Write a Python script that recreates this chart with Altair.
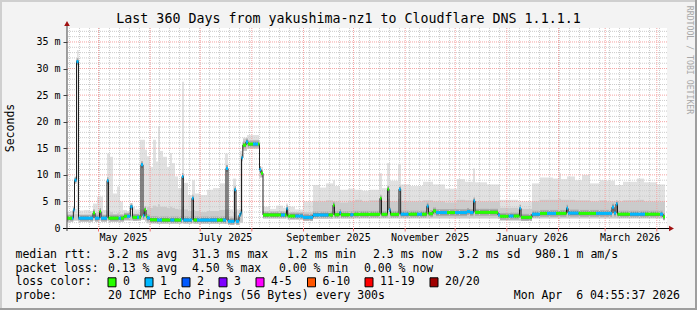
import altair as alt
import pandas as pd
from datetime import datetime, timedelta

FONT = "DejaVu Sans Mono"
X0, Y0 = 67, 28          # plot origin inside the 697x310 page
W, H = 600, 200
YMAX = 37.63

# ---------------- data ----------------
# x unit: days from the left edge of the plot (360 days over 600 px)
smoke_start = [0, 1.8, 3.6, 6.0, 7.0, 10.0, 13.8, 15.6, 18.0, 21.6,
               24.0, 25.8, 27.6, 30.0, 31.8, 33.6, 36.0, 39.0, 40.8, 43.8,
               46.8, 48.0, 49.8, 51.6, 53.4, 54.6, 55.8, 57.6, 60.0, 61.8,
               63.0, 64.8, 66.6, 69.0, 70.2, 72.6, 75.0, 76.8, 79.8, 84.0,
               87.6, 91.8, 94.8, 96.6, 99.6, 101.4, 103.8, 105.6, 108.0, 115.2,
               117.6, 121.8, 125.4, 129.6, 131.4, 132.6, 136.8, 141.6, 147.6, 151.8,
               155.4, 159.6, 160.8, 163.8, 168.6, 172.8, 177.0, 181.8, 187.2, 189.0,
               192.0, 193.8, 198.6, 200.4, 205.8, 213.6, 219.6, 226.8, 234.0, 238.8,
               243.6, 244.8, 252.0, 259.8, 270.6, 279.0, 283.8, 291.6, 295.2, 296.4,
               300.0, 304.8, 309.0, 313.8, 319.8, 324.0, 328.8, 333.6, 342.0, 346.2,
               354.0]
smoke_hi = [3.0, 3.2, 3.6, 33.5, 3.3, 3.4, 3.2, 4.6, 5.9, 3.4,
            14.0, 13.4, 6.5, 7.8, 5.0, 3.4, 3.2, 4.0, 3.5, 16.6,
            14.7, 13.5, 11.5, 16.6, 12.5, 19.1, 14.5, 13.4, 11.5, 14.1,
            12.2, 9.7, 7.5, 27.5, 8.5, 6.2, 9.0, 6.5, 6.2, 7.2,
            7.5, 8.4, 14.0, 3.5, 9.3, 3.5, 14.5, 17.0, 17.5, 11.5,
            4.0, 3.6, 4.2, 3.8, 4.6, 4.0, 3.5, 5.0, 8.1, 7.6,
            8.4, 9.0, 7.9, 7.2, 7.4, 7.2, 7.0, 7.2, 10.3, 7.5,
            12.2, 8.9, 11.9, 8.2, 7.9, 8.7, 8.2, 7.4, 9.2, 8.7,
            11.2, 8.6, 8.2, 5.3, 5.0, 8.4, 9.5, 9.3, 10.3, 9.2,
            9.7, 9.0, 10.0, 8.4, 9.0, 8.9, 8.1, 8.7, 9.3, 8.6,
            8.2]
smoke_mid = [2.4, 2.4, 2.6, 2.6, 2.4, 2.4, 2.4, 2.8, 3.0, 2.4,
             3.2, 3.0, 2.6, 2.8, 2.6, 2.4, 2.5, 2.7, 2.6, 3.5,
             3.4, 4.0, 3.8, 4.2, 4.0, 4.5, 4.0, 4.0, 3.8, 4.0,
             3.8, 3.6, 3.5, 4.0, 3.5, 3.2, 3.4, 3.2, 3.0, 3.2,
             3.2, 3.4, 3.5, 2.2, 3.0, 2.2, 3.5, 16.8, 16.6, 11.0,
             3.0, 3.0, 3.1, 3.0, 3.4, 3.0, 2.9, 3.0, 5.0, 5.0,
             5.2, 5.0, 5.0, 4.8, 5.0, 5.3, 5.0, 5.2, 5.5, 5.0,
             5.5, 5.0, 5.5, 5.0, 5.0, 5.2, 5.0, 4.8, 5.3, 5.2,
             5.5, 5.0, 5.0, 3.8, 3.6, 5.0, 5.3, 5.3, 5.5, 5.3,
             5.3, 5.2, 5.2, 5.0, 5.2, 5.0, 5.0, 5.2, 5.3, 5.0,
             5.0]
smoke_lo = [1.4, 1.4, 1.4, 1.4, 1.4, 1.4, 1.4, 1.4, 1.4, 1.4,
            1.4, 1.4, 1.4, 1.4, 1.4, 1.4, 1.4, 1.5, 1.5, 1.5,
            1.2, 0.9, 0.9, 0.9, 0.9, 0.9, 0.9, 0.9, 0.9, 0.9,
            0.9, 0.9, 0.9, 0.9, 0.9, 0.9, 0.9, 0.9, 0.9, 0.9,
            0.9, 0.9, 0.8, 0.8, 0.8, 0.8, 1.0, 14.5, 14.9, 9.5,
            2.0, 2.0, 2.0, 2.0, 2.0, 2.0, 1.9, 1.6, 1.8, 1.8,
            1.8, 1.8, 1.8, 1.8, 1.8, 1.8, 1.8, 1.8, 1.8, 1.8,
            1.8, 1.8, 1.8, 1.8, 1.8, 1.8, 1.8, 1.8, 1.8, 1.8,
            1.8, 1.8, 1.8, 1.4, 1.4, 1.8, 1.8, 1.8, 1.8, 1.8,
            1.8, 1.8, 1.8, 1.8, 1.8, 1.8, 1.8, 1.8, 1.8, 1.8,
            1.8]
DATA_END = 358.8

med_start = [0, 3.0, 3.8, 4.5, 5.7, 6.9, 15.6, 16.8, 19.5, 20.4,
             24.0, 24.9, 31.0, 32.4, 34.2, 36.0, 38.0, 39.3, 42.0, 43.2,
             44.4, 45.6, 46.4, 47.4, 48.0, 49.8, 54.0, 57.0, 62.0, 64.5,
             68.4, 69.0, 69.8, 75.0, 75.9, 78.0, 90.0, 93.5, 95.4, 96.6,
             100.5, 101.4, 103.2, 104.1, 104.7, 105.5, 107.4, 108.6, 111.6, 114.6,
             115.5, 116.4, 117.6, 128.4, 130.8, 131.7, 132.4, 137.0, 141.6, 147.6,
             157.0, 159.6, 160.5, 163.5, 164.4, 170.0, 172.0, 187.8, 188.7, 192.3,
             193.2, 194.1, 199.2, 200.2, 205.0, 210.0, 213.0, 215.9, 216.9, 219.6,
             221.4, 228.0, 232.8, 240.0, 241.8, 243.9, 244.8, 258.6, 259.8, 265.0,
             268.0, 271.5, 272.4, 279.0, 283.8, 288.0, 293.4, 299.7, 300.6, 307.0,
             317.4, 327.0, 328.2, 329.4, 330.3, 337.8, 346.8, 355.8, 357.6]
med_val = [1.85, 1.85, 3.4, 9.0, 31.3, 1.85, 2.8, 1.85, 3.1, 1.85,
           8.9, 1.85, 1.85, 1.85, 2.2, 2.2, 4.0, 2.0, 2.0, 2.0,
           11.9, 2.3, 3.4, 2.2, 1.9, 1.55, 1.5, 1.5, 1.5, 1.5,
           1.55, 9.7, 1.5, 5.6, 1.5, 1.5, 1.5, 1.5, 11.2, 1.25,
           7.2, 1.25, 2.4, 2.8, 13.2, 15.6, 16.2, 15.8, 15.8, 15.8,
           11.0, 10.3, 2.45, 2.45, 2.45, 3.6, 2.25, 2.25, 2.0, 2.45,
           2.45, 4.3, 2.5, 2.9, 2.5, 2.5, 2.57, 5.6, 2.57, 7.3,
           3.4, 2.57, 7.3, 2.6, 2.6, 2.6, 2.6, 4.1, 2.7, 3.2,
           2.9, 2.9, 2.9, 3.1, 2.9, 5.1, 2.95, 2.45, 2.2, 2.25,
           2.25, 3.7, 2.0, 2.6, 2.75, 2.75, 2.75, 3.7, 2.8, 2.75,
           2.75, 3.9, 2.8, 4.5, 2.6, 2.6, 2.6, 2.6, 2.1]
med_loss = [0, 1, 1, 1, 1, 1, 0, 1, 0, 1,
            1, 0, 1, 0, 0, 1, 1, 0, 1, 0,
            1, 1, 0, 0, 1, 0, 1, 0, 1, 0,
            1, 1, 1, 1, 0, 1, 0, 1, 1, 1,
            1, 1, 1, 1, 1, 0, 1, 0, 1, 0,
            1, 0, 0, 1, 0, 1, 0, 1, 1, 1,
            0, 0, 0, 1, 0, 1, 0, 0, 0, 0,
            1, 0, 1, 1, 0, 1, 0, 1, 0, 0,
            1, 0, 1, 1, 1, 1, 0, 1, 0, 1,
            0, 1, 0, 1, 0, 1, 0, 1, 1, 0,
            1, 1, 1, 1, 0, 1, 0, 1, 0]

y_ticks = [0, 5, 10, 15, 20, 25, 30, 35]
month_names = ["May 2025", "July 2025", "September 2025",
               "November 2025", "January 2026", "March 2026"]
loss_names = ["0", "1", "2", "3", "4-5", "6-10", "11-19", "20/20"]
loss_colors = ["#26ff00", "#00b8ff", "#0059ff", "#7e00ff",
               "#ff00ff", "#ff5500", "#ff0000", "#a00000"]
stats_rtt = ["3.2 ms avg", "31.3 ms max", "1.2 ms min", "2.3 ms now",
             "3.2 ms sd", "980.1 m am/s"]
stats_loss = ["0.13 % avg", "4.50 % max", "0.00 % min", "0.00 % now"]

# ---------------- time axis helpers ----------------
ORIGIN = datetime(2025, 4, 12, 2, 24)


def day_of(dt):
    return (dt - ORIGIN).total_seconds() / 86400.0


month_starts = []
for y, m in [(2025, 5), (2025, 6), (2025, 7), (2025, 8), (2025, 9), (2025, 10),
             (2025, 11), (2025, 12), (2026, 1), (2026, 2), (2026, 3), (2026, 4)]:
    month_starts.append(day_of(datetime(y, m, 1)))
label_months = [datetime(2025, 5, 1), datetime(2025, 7, 1), datetime(2025, 9, 1),
                datetime(2025, 11, 1), datetime(2026, 1, 1), datetime(2026, 3, 1)]
label_days = [day_of(d + timedelta(days=15)) for d in label_months]
minor_days = []
d = 1.5
while d < 360:
    minor_days.append(d)
    d += 6
minor_y = [v for v in range(1, 38) if v % 5 != 0]
major_y = [v for v in range(5, 38, 5)]

# ---------------- frames ----------------
smoke_end = smoke_start[1:] + [DATA_END]
smoke_df = pd.DataFrame({"s": smoke_start, "e": smoke_end, "hi": smoke_hi,
                         "mid": smoke_mid, "lo": smoke_lo})
med_end = med_start[1:] + [DATA_END]
med_df = pd.DataFrame({"s": med_start, "e": med_end, "v": med_val,
                       "loss": [str(x) for x in med_loss]})
line_df = pd.DataFrame({"s": med_start + [DATA_END], "v": med_val + [med_val[-1]]})

xs = alt.Scale(domain=[0, 360], nice=False, zero=False)
ys = alt.Scale(domain=[0, YMAX], nice=False, zero=False)
yaxis = alt.Axis(values=y_ticks, labelExpr="datum.value == 0 ? '0' : datum.value + ' m'",
                 domain=False, grid=False, ticks=True, tickSize=4, tickColor="#404040",
                 labelFont=FONT, labelFontSize=10, labelColor="#000000", labelPadding=3,
                 title=None, labelOverlap=False, labelBaseline="middle")


def X(field):
    return alt.X(field, type="quantitative", scale=xs, axis=None)


def Y(field):
    return alt.Y(field, type="quantitative", scale=ys, axis=yaxis)


layers = []
# smoke
layers.append(alt.Chart(smoke_df).mark_rect(color="#e1e1e1").encode(
    x=X("s"), x2="e", y=Y("lo"), y2="hi"))
layers.append(alt.Chart(smoke_df).mark_rect(color="#cbcbcb").encode(
    x=X("s"), x2="e", y=Y("lo"), y2="mid"))
layers.append(alt.Chart(med_df).mark_rule(color="#acacac", strokeWidth=7).encode(
    x=X("s"), x2="e", y=Y("v")))
layers.append(alt.Chart(med_df).mark_rule(color="#7c7c7c", strokeWidth=3.5).encode(
    x=X("s"), x2="e", y=Y("v")))

# grid
layers.append(alt.Chart(pd.DataFrame({"d": minor_days})).mark_rule(
    color="#cccccc", strokeDash=[1, 1], strokeWidth=1).encode(x=X("d")))
layers.append(alt.Chart(pd.DataFrame({"v": minor_y})).mark_rule(
    color="#cccccc", strokeDash=[1, 1], strokeWidth=1).encode(y=Y("v")))
layers.append(alt.Chart(pd.DataFrame({"d": month_starts})).mark_rule(
    color="#f4a3a3", strokeDash=[1, 1], strokeWidth=1).encode(x=X("d")))
layers.append(alt.Chart(pd.DataFrame({"v": major_y})).mark_rule(
    color="#f4a3a3", strokeDash=[1, 1], strokeWidth=1).encode(y=Y("v")))

# median
layers.append(alt.Chart(line_df).mark_line(interpolate="step-after", color="#202020",
                                           strokeWidth=1).encode(x=X("s"), y=Y("v")))
layers.append(alt.Chart(med_df).mark_rule(strokeWidth=3).encode(
    x=X("s"), x2="e", y=Y("v"),
    color=alt.Color("loss:N", scale=alt.Scale(domain=["0", "1"],
                                              range=loss_colors[:2]), legend=None)))

one = alt.Data(values=[{"a": 1}])

# axes lines, arrows, ticks
layers.append(alt.Chart(one).mark_rule(color="#000000", strokeWidth=1).encode(
    x=alt.value(-4), x2=alt.value(603), y=alt.value(200.5)))
layers.append(alt.Chart(one).mark_rule(color="#404040", strokeWidth=1).encode(
    x=alt.value(0), y=alt.value(203), y2=alt.value(-3)))
layers.append(alt.Chart(one).mark_point(shape="triangle-up", filled=True, size=32,
                                        color="#a01010", opacity=1).encode(
    x=alt.value(0), y=alt.value(-4.5)))
layers.append(alt.Chart(one).mark_point(shape="triangle-right", filled=True, size=32,
                                        color="#a01010", opacity=1).encode(
    x=alt.value(604.5), y=alt.value(200.5)))
layers.append(alt.Chart(pd.DataFrame({"d": month_starts})).mark_rule(
    color="#f07070", strokeWidth=1).encode(x=X("d"), y=alt.value(200), y2=alt.value(203.5)))
layers.append(alt.Chart(pd.DataFrame({"d": label_days, "t": month_names})).mark_text(
    font=FONT, fontSize=10, color="#000000", baseline="middle", align="center").encode(
    x=X("d"), y=alt.value(209.5), text="t:N"))


def txt(s, x, y, size=11.5, align="left", angle=0, color="#000000"):
    return alt.Chart(one).mark_text(text=s, font=FONT, fontSize=size, align=align,
                                    baseline="middle", angle=angle, color=color).encode(
        x=alt.value(x - X0), y=alt.value(y - Y0))


def hline(x1, x2, y, color, w=2):
    return alt.Chart(one).mark_rule(color=color, strokeWidth=w).encode(
        x=alt.value(x1 - X0), x2=alt.value(x2 - X0), y=alt.value(y - Y0))


def vline(x, y1, y2, color, w=2):
    return alt.Chart(one).mark_rule(color=color, strokeWidth=w).encode(
        x=alt.value(x - X0), y=alt.value(y1 - Y0), y2=alt.value(y2 - Y0))


# frame
layers.append(hline(0, 697, 1, "#cfcfcf"))
layers.append(vline(1, 0, 310, "#cfcfcf"))
layers.append(hline(0, 697, 309, "#9e9e9e"))
layers.append(vline(696, 0, 310, "#9e9e9e"))

# texts
layers.append(txt("Last 360 Days from yakushima-nz1 to Cloudflare DNS 1.1.1.1", 348.5, 19,
                  size=13.3, align="center"))
layers.append(txt("Seconds", 10.5, 128, angle=270, align="center"))
layers.append(txt("RRDTOOL / TOBI OETIKER", 688.5, 60, size=8.2, angle=90, align="center",
                  color="#a8a8a8"))

row_y = [254.5, 268.5, 282.3, 296.3]
layers.append(txt("median rtt:", 15.5, row_y[0]))
for s, x in zip(stats_rtt, [108, 192, 287, 373, 458, 535]):
    layers.append(txt(s, x, row_y[0]))
layers.append(txt("packet loss:", 15.5, row_y[1]))
for s, x in zip(stats_loss, [108, 192, 279, 364]):
    layers.append(txt(s, x, row_y[1]))
layers.append(txt("loss color:", 15.5, row_y[2]))
box_x = [108, 145, 182, 219, 256, 307.5, 365, 430]
for name, col, bx in zip(loss_names, loss_colors, box_x):
    layers.append(alt.Chart(one).mark_rect(fill=col, stroke="#000000", strokeWidth=1).encode(
        x=alt.value(bx - X0), x2=alt.value(bx + 8 - X0),
        y=alt.value(row_y[2] - 4.5 - Y0), y2=alt.value(row_y[2] + 4.5 - Y0)))
    layers.append(txt(name, bx + 15, row_y[2]))
layers.append(txt("probe:", 15.5, row_y[3]))
layers.append(txt("20 ICMP Echo Pings (56 Bytes) every 300s", 108, row_y[3]))
layers.append(txt("Mon Apr\u00a0 6 04:55:37 2026", 680, row_y[3], align="right"))

chart = alt.layer(*layers).properties(
    width=W, height=H,
    padding={"left": X0, "top": Y0, "right": 697 - X0 - W, "bottom": 310 - Y0 - H},
    autosize=alt.AutoSizeParams(type="none"),
    background="#f3f3f3",
).configure_view(fill="#ffffff", stroke=None)

chart.save("out.html", embed_options={"renderer": "svg", "actions": False})
